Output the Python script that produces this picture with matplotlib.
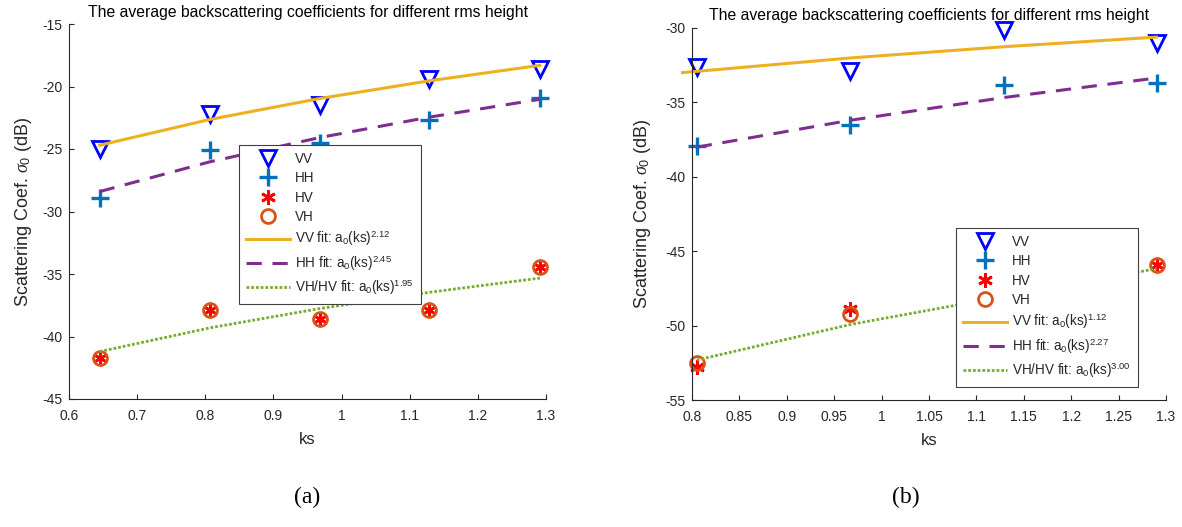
import numpy as np
import matplotlib
matplotlib.use('Agg')
import matplotlib.pyplot as plt
from matplotlib.ticker import FuncFormatter, MultipleLocator

plt.rcParams['font.family'] = ['Liberation Sans', 'DejaVu Sans']
plt.rcParams['mathtext.fontset'] = 'custom'
plt.rcParams['mathtext.rm'] = 'Liberation Sans'
plt.rcParams['mathtext.it'] = 'Liberation Serif:italic'

# Panel (a): five rms heights
ks_a = [0.645, 0.807, 0.968, 1.129, 1.291]
vv_a = [-25.0, -22.2, -21.5, -19.4, -18.6]
hh_a = [-28.9, -25.1, -24.5, -22.7, -20.9]
hv_a = [-41.7, -37.9, -38.6, -37.9, -34.4]
vh_a = [-41.7, -37.9, -38.6, -37.9, -34.4]
# power-law fits a0*(ks)^p : exponent and level at ks = 1 (dB)
p_a = {'VV': 2.12, 'HH': 2.45, 'VH/HV': 1.95}
c_a = {'VV': -20.66, 'HH': -23.74, 'VH/HV': -37.49}

# Panel (b): four rms heights
ks_b = [0.805, 0.967, 1.129, 1.290]
vv_b = [-32.65, -32.9, -30.15, -31.0]
hh_b = [-37.93, -36.5, -33.8, -33.7]
ks_bx = [0.805, 0.967, 1.290]
hv_b = [-52.8, -48.9, -45.9]
vh_b = [-52.5, -49.2, -45.9]
ks_b_vvfit = [0.790, 0.967, 1.129, 1.290]
p_b = {'VV': 1.12, 'HH': 2.27, 'VH/HV': 3.00}
c_b = {'VV': -31.85, 'HH': -35.87, 'VH/HV': -49.49}

TITLE = 'The average backscattering coefficients for different rms height'
DARK = '#262626'


def fit_db(ks, c, p):
    ks = np.asarray(ks)
    return c + 10 * p * np.log10(ks)


def draw_panel(ax, ks, vv, hh, ksx, hv, vh, p, c, ks_vvfit, ylabelpad):
    ax.plot(ks, vv, ls='none', marker='v', ms=11, mfc='none', mec='#0000FF', mew=2,
            clip_on=False, label='VV')
    ax.plot(ks, hh, ls='none', marker='+', ms=13, mec='#0072BD', mew=2.4,
            clip_on=False, label='HH')
    ax.plot(ksx, hv, ls='none', marker=(6, 2, 0), ms=10.5, mec='#FF0000', mew=2,
            clip_on=False, label='HV')
    ax.plot(ksx, vh, ls='none', marker='o', ms=10, mfc='none', mec='#D95319', mew=2,
            clip_on=False, label='VH')
    ax.plot(ks_vvfit, fit_db(ks_vvfit, c['VV'], p['VV']), color='#EDB120', lw=2.2,
            clip_on=False, label='VV fit: a$_0$(ks)$^{%.2f}$' % p['VV'])
    ax.plot(ks, fit_db(ks, c['HH'], p['HH']), color='#7E2F8E', lw=2.2, dashes=(5, 3.5),
            label='HH fit: a$_0$(ks)$^{%.2f}$' % p['HH'])
    xs = ksx if len(ksx) < len(ks) else ks
    ax.plot(xs, fit_db(xs, c['VH/HV'], p['VH/HV']),
            color='#77AC30', lw=2, dashes=(1, 0.7),
            label='VH/HV fit: a$_0$(ks)$^{%.2f}$' % p['VH/HV'])

    ax.set_xlabel('ks', fontsize=12, color=DARK, labelpad=6)
    ax.set_ylabel('Scattering Coef. $\\sigma_0$ (dB)', fontsize=13, color=DARK,
                  labelpad=ylabelpad)
    for s in ['top', 'right']:
        ax.spines[s].set_visible(False)
    for s in ['left', 'bottom']:
        ax.spines[s].set_color(DARK)
        ax.spines[s].set_linewidth(0.8)
    ax.tick_params(direction='in', length=3.5, width=0.8, colors=DARK, labelsize=10)
    ax.tick_params(axis='x', pad=7.5)
    ax.tick_params(axis='y', pad=4.5)
    ax.xaxis.set_major_formatter(FuncFormatter(lambda v, pos: '%g' % round(v, 4)))
    ax.yaxis.set_major_formatter(FuncFormatter(lambda v, pos: '%g' % round(v, 4)))


fig = plt.figure(figsize=(11.82, 5.27), dpi=100)
W, H = 1182.0, 527.0

ax1 = fig.add_axes([69 / W, 1 - 399 / H, 477 / W, 375 / H])
draw_panel(ax1, ks_a, vv_a, hh_a, ks_a, hv_a, vh_a, p_a, c_a, ks_a, ylabelpad=6)
ax1.set_xlim(0.6, 1.3)
ax1.set_ylim(-45, -15)
ax1.xaxis.set_major_locator(MultipleLocator(0.1))
ax1.yaxis.set_major_locator(MultipleLocator(5))
ax1.set_title(TITLE, fontsize=11.3, color='black', pad=5)

ax2 = fig.add_axes([692 / W, 1 - 400 / H, 474 / W, 372 / H])
draw_panel(ax2, ks_b, vv_b, hh_b, ks_bx, hv_b, vh_b, p_b, c_b, ks_b_vvfit, ylabelpad=9)
ax2.set_xlim(0.8, 1.3)
ax2.set_ylim(-55, -30)
ax2.xaxis.set_major_locator(MultipleLocator(0.05))
ax2.yaxis.set_major_locator(MultipleLocator(5))
ax2.set_title(TITLE, fontsize=11.3, color='black', pad=6)

for ax, (lx, ly) in [(ax1, (239, 145)), (ax2, (956, 228))]:
    leg = ax.legend(loc='upper left', bbox_to_anchor=(lx / W, 1 - ly / H),
                    bbox_transform=fig.transFigure, borderaxespad=0,
                    fontsize=9.75, handlelength=3.3, handletextpad=0.35,
                    labelspacing=0.40, borderpad=0.5, fancybox=False,
                    framealpha=1, edgecolor='#404040')
    leg.get_frame().set_linewidth(0.8)
    leg.set_zorder(5)
    for t in leg.get_texts():
        t.set_color(DARK)

fig.text(307 / W, 1 - 497 / H, '(a)', family='Liberation Serif', fontsize=17,
         ha='center', va='center')
fig.text(906 / W, 1 - 497 / H, '(b)', family='Liberation Serif', fontsize=17,
         ha='center', va='center')

fig.savefig('out.png', dpi=100)
